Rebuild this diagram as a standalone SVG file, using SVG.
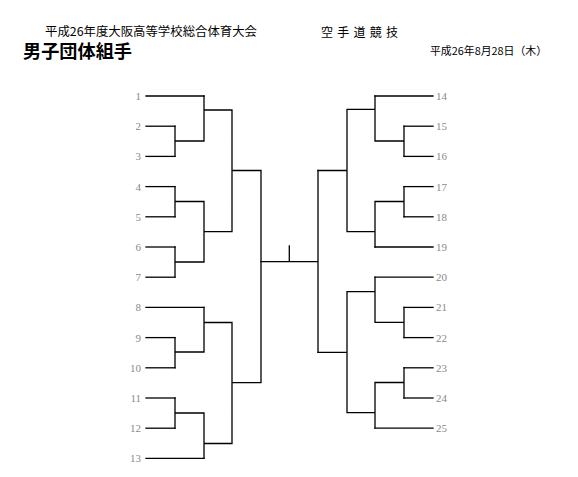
<svg xmlns="http://www.w3.org/2000/svg" width="578" height="477" viewBox="0 0 578 477">
<style>
.bg{fill:#ffffff}
.ln{fill:none;stroke:#000000;stroke-width:1.3;stroke-linecap:square}
.num{font-family:"Liberation Serif","DejaVu Serif",serif;font-size:11px;fill:#8a8a8a}
.l{text-anchor:end}
.r{text-anchor:start}
.hd{font-family:"Noto Sans CJK JP","Noto Sans",sans-serif;fill:#000000}
</style>
<rect class="bg" x="0" y="0" width="578" height="477"/>
<g id="header">
<text class="hd" x="45" y="36" font-size="12" textLength="212" lengthAdjust="spacingAndGlyphs">平成26年度大阪高等学校総合体育大会</text>
<text class="hd" x="23" y="58" font-size="18" font-weight="bold" textLength="109" lengthAdjust="spacingAndGlyphs">男子団体組手</text>
<text class="hd" x="321" y="37" font-size="12" textLength="77" lengthAdjust="spacing">空 手 道 競 技</text>
<text class="hd" x="430" y="55" font-size="11" textLength="117" lengthAdjust="spacingAndGlyphs">平成26年8月28日（木）</text>
</g>
<g id="connectors">
<path class="ln" d="M175 126.2V156.4M175 141H204M204 96V141M204 110H232M175 186.6V216.8M175 201.5H204M175 247V277.2M175 262H204M204 201.5V262M204 231.7H232M232 110V231.7M232 170.5H261M175 337.6V367.8M175 352H204M204 307.4V352M204 322.5H232M175 398V428.2M175 413H204M204 413V458.4M204 443.5H232M232 322.5V443.5M232 382.7H261M261 170.5V382.7"/>
<path class="ln" d="M261 261.7H318M289.3 246V261.7M318 170.5V352.3"/>
<path class="ln" d="M318 170.5H347M347 109.3V231.7M347 109.3H375M375 96V141M375 141H404M404 126.2V156.4M347 231.7H375M375 201.5V247M375 201.5H404M404 186.6V216.8M318 352.3H347M347 291.7V412.7M347 291.7H375M375 277.2V322.3M375 322.3H404M404 307.4V337.6M347 412.7H375M375 382.5V428.2M375 382.5H404M404 367.8V398"/>
</g>
<g id="t1"><path class="ln" d="M146 96H204"/><text class="num l" x="141" y="100">1</text></g>
<g id="t2"><path class="ln" d="M146 126.2H175"/><text class="num l" x="141" y="130.2">2</text></g>
<g id="t3"><path class="ln" d="M146 156.4H175"/><text class="num l" x="141" y="160.4">3</text></g>
<g id="t4"><path class="ln" d="M146 186.6H175"/><text class="num l" x="141" y="190.6">4</text></g>
<g id="t5"><path class="ln" d="M146 216.8H175"/><text class="num l" x="141" y="220.8">5</text></g>
<g id="t6"><path class="ln" d="M146 247H175"/><text class="num l" x="141" y="251">6</text></g>
<g id="t7"><path class="ln" d="M146 277.2H175"/><text class="num l" x="141" y="281.2">7</text></g>
<g id="t8"><path class="ln" d="M146 307.4H204"/><text class="num l" x="141" y="311.4">8</text></g>
<g id="t9"><path class="ln" d="M146 337.6H175"/><text class="num l" x="141" y="341.6">9</text></g>
<g id="t10"><path class="ln" d="M146 367.8H175"/><text class="num l" x="141" y="371.8">10</text></g>
<g id="t11"><path class="ln" d="M146 398H175"/><text class="num l" x="141" y="402">11</text></g>
<g id="t12"><path class="ln" d="M146 428.2H175"/><text class="num l" x="141" y="432.2">12</text></g>
<g id="t13"><path class="ln" d="M146 458.4H204"/><text class="num l" x="141" y="462.4">13</text></g>
<g id="t14"><path class="ln" d="M375 96H433"/><text class="num r" x="436" y="100">14</text></g>
<g id="t15"><path class="ln" d="M404 126.2H433"/><text class="num r" x="436" y="130.2">15</text></g>
<g id="t16"><path class="ln" d="M404 156.4H433"/><text class="num r" x="436" y="160.4">16</text></g>
<g id="t17"><path class="ln" d="M404 186.6H433"/><text class="num r" x="436" y="190.6">17</text></g>
<g id="t18"><path class="ln" d="M404 216.8H433"/><text class="num r" x="436" y="220.8">18</text></g>
<g id="t19"><path class="ln" d="M375 247H433"/><text class="num r" x="436" y="251">19</text></g>
<g id="t20"><path class="ln" d="M375 277.2H433"/><text class="num r" x="436" y="281.2">20</text></g>
<g id="t21"><path class="ln" d="M404 307.4H433"/><text class="num r" x="436" y="311.4">21</text></g>
<g id="t22"><path class="ln" d="M404 337.6H433"/><text class="num r" x="436" y="341.6">22</text></g>
<g id="t23"><path class="ln" d="M404 367.8H433"/><text class="num r" x="436" y="371.8">23</text></g>
<g id="t24"><path class="ln" d="M404 398H433"/><text class="num r" x="436" y="402">24</text></g>
<g id="t25"><path class="ln" d="M375 428.2H433"/><text class="num r" x="436" y="432.2">25</text></g>
</svg>
